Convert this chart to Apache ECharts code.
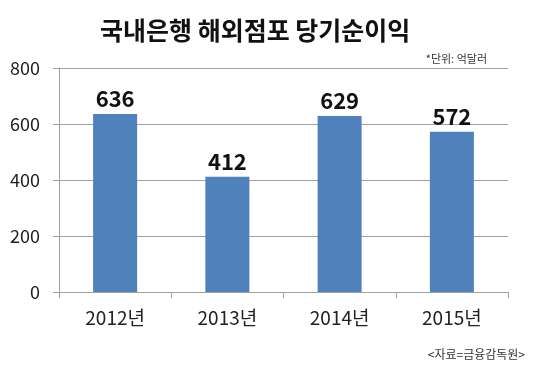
<!DOCTYPE html>
<html><head><meta charset="utf-8">
<script src="https://cdn.jsdelivr.net/npm/echarts@6/dist/echarts.min.js"></script>
<style>html,body{margin:0;padding:0;background:#fff}#c{width:540px;height:371px}</style>
</head><body><div id="c"></div>
<script>
var categories = ['2012년', '2013년', '2014년', '2015년'];
var values = [636, 412, 629, 572];
var yTicks = [0, 200, 400, 600, 800];
var titleText = '국내은행 해외점포 당기순이익';
var unitText = '*단위: 억달러';
var sourceText = '<자료=금융감독원>';

var font = '"Noto Sans CJK KR", "Noto Sans", sans-serif';
var chart = echarts.init(document.getElementById('c'));
chart.setOption({
  animation: false,
  backgroundColor: '#fff',
  title: [
    {text: titleText, left: 95, top: 13, textStyle: {fontFamily: font, fontSize: 25, fontWeight: 'bold', color: '#111'}},
    {text: unitText, right: 48, top: 48, textStyle: {fontFamily: font, fontSize: 11, fontWeight: 'normal', color: '#333'}},
    {text: sourceText, right: 10, top: 343, textStyle: {fontFamily: font, fontSize: 12, fontWeight: 'normal', color: '#333'}}
  ],
  grid: {left: 59, right: 32, top: 68, bottom: 79, containLabel: false},
  xAxis: {
    type: 'category', data: categories,
    axisLine: {lineStyle: {color: '#a0a0a0', width: 1}},
    axisTick: {show: true, length: 6, interval: 0, lineStyle: {color: '#a0a0a0'}},
    axisLabel: {fontFamily: font, fontSize: 19, color: '#222', margin: 16}
  },
  yAxis: {
    type: 'value', min: yTicks[0], max: yTicks[yTicks.length - 1], interval: 200,
    axisLine: {show: true, lineStyle: {color: '#a0a0a0'}},
    axisTick: {show: true, length: 6, lineStyle: {color: '#a0a0a0'}},
    splitLine: {lineStyle: {color: '#a0a0a0', width: 1}},
    axisLabel: {fontFamily: font, fontSize: 18, color: '#222', margin: 19}
  },
  series: [{
    type: 'bar', data: values, barWidth: 44,
    itemStyle: {color: '#4f81bd'},
    label: {show: true, position: 'top', distance: 4, fontFamily: font, fontSize: 22, fontWeight: 'bold', color: '#111'}
  }]
});
</script></body></html>
